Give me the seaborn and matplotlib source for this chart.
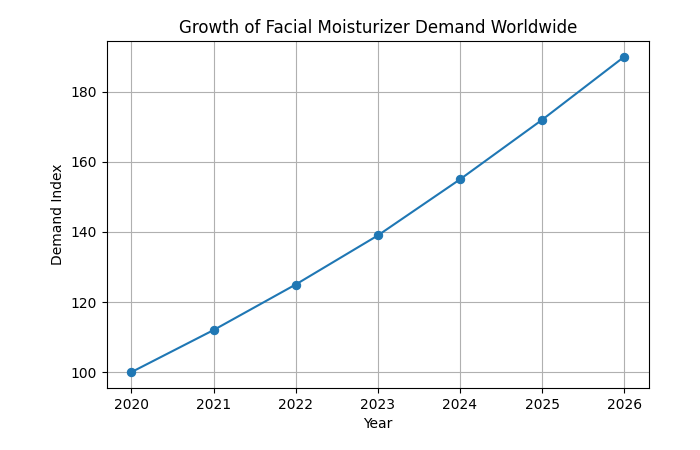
import matplotlib
matplotlib.use("Agg")
import matplotlib.pyplot as plt
import seaborn as sns
import pandas as pd

years = [2020, 2021, 2022, 2023, 2024, 2025, 2026]
demand = [100, 112, 125, 139, 155, 172, 190]

df = pd.DataFrame({"Year": years, "Demand Index": demand})

fig, ax = plt.subplots(figsize=(7, 4.5), dpi=100)
sns.lineplot(data=df, x="Year", y="Demand Index", marker="o", color="#1f77b4",
             markersize=6, markeredgecolor="#1f77b4", ax=ax)

ax.set_title("Growth of Facial Moisturizer Demand Worldwide")
ax.set_xlabel("Year")
ax.set_ylabel("Demand Index")
ax.set_xticks(years)
ax.grid(True)

fig.subplots_adjust(left=0.1525, right=0.927, top=0.909, bottom=0.138)
plt.savefig("out.png")
